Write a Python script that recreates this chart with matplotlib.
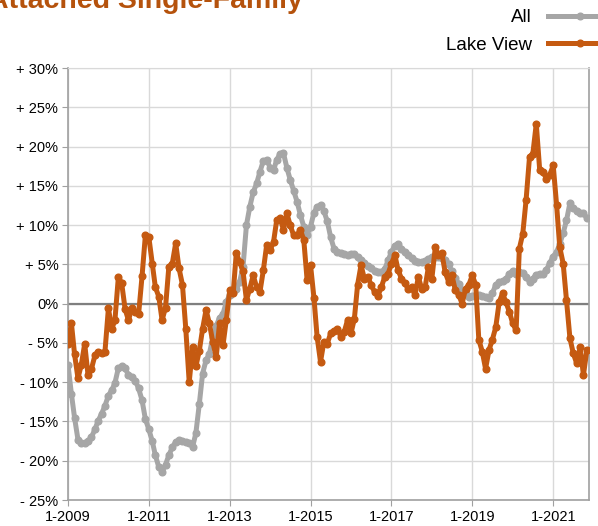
import pandas as pd
import matplotlib
matplotlib.use('Agg')
import matplotlib.pyplot as plt

plt.rcParams['font.family'] = ['Liberation Sans', 'DejaVu Sans']

## meses desde 1-2009 hasta 11-2021
fechas = pd.date_range('2009-01-01', periods=155, freq='MS')

todos = [-7.8, -11.5, -14.5, -17.3, -17.8, -17.7, -17.5, -17.0, -16.0, -14.9,
         -14.0, -13.0, -11.7, -11.0, -10.1, -8.2, -8.0, -8.2, -9.1, -9.4,
         -9.8, -10.8, -12.3, -14.7, -16.0, -17.5, -19.3, -20.8, -21.4, -20.5,
         -19.3, -18.3, -17.6, -17.4, -17.5, -17.6, -17.7, -18.2, -16.5, -12.8,
         -8.9, -7.2, -6.4, -4.3, -2.8, -1.8, -1.3, 0.2, 1.1, 1.5,
         1.9, 2.8, 4.7, 10.0, 12.3, 14.2, 15.3, 16.8, 18.2, 18.3,
         17.3, 17.0, 18.3, 19.1, 19.2, 17.3, 15.8, 14.4, 13.0, 11.3,
         9.8, 8.8, 9.8, 11.6, 12.3, 12.6, 11.8, 10.5, 8.5, 7.0,
         6.6, 6.4, 6.3, 6.2, 6.3, 6.3, 6.0, 5.6, 5.2, 4.8,
         4.5, 4.2, 4.0, 4.0, 4.4, 5.5, 6.6, 7.4, 7.6, 7.0,
         6.6, 6.2, 5.8, 5.4, 5.3, 5.3, 5.4, 5.7, 6.0, 6.0,
         5.9, 5.8, 5.5, 5.0, 4.1, 3.3, 2.5, 1.7, 1.2, 0.9,
         1.0, 1.1, 1.1, 1.0, 0.9, 0.7, 1.3, 2.4, 2.7, 2.9,
         3.1, 3.8, 4.2, 3.8, 4.0, 3.9, 3.4, 2.8, 3.2, 3.7,
         3.8, 3.8, 4.3, 5.2, 6.0, 6.6, 7.6, 9.0, 10.6, 12.8,
         12.2, 11.8, 11.5, 11.5, 10.9]

lake_view = [-5.1, -2.5, -6.4, -9.5, -7.8, -5.1, -9.1, -8.3, -6.6, -6.1,
             -6.3, -6.1, -0.6, -3.2, -2.1, 3.4, 2.6, -0.7, -2.1, -0.6,
             -1.0, -1.3, 3.5, 8.7, 8.5, 5.1, 2.1, 0.9, -2.1, -0.5,
             4.7, 5.1, 7.7, 4.5, 2.4, -3.2, -10.0, -5.5, -8.0, -6.0,
             -3.2, -0.8, -2.5, -4.9, -6.8, -2.5, -5.3, -2.1, 1.7, 1.3,
             6.4, 5.3, 4.1, 0.45, 1.9, 3.6, 2.1, 1.5, 4.3, 7.5,
             6.8, 7.9, 10.6, 10.9, 9.4, 11.5, 10.0, 8.7, 8.7, 9.4,
             8.1, 3.0, 4.9, 0.7, -4.2, -7.4, -4.9, -5.1, -3.8, -3.5,
             -3.2, -4.2, -3.6, -2.1, -3.8, -1.9, 2.4, 4.9, 3.2, 3.4,
             2.4, 1.5, 1.0, 2.1, 3.4, 3.8, 5.1, 6.2, 4.3, 3.2,
             2.6, 1.9, 2.1, 1.1, 3.4, 1.9, 2.1, 4.7, 3.2, 7.2,
             6.2, 6.4, 4.0, 2.8, 3.6, 1.7, 1.1, 0.0, 1.9, 2.4,
             3.6, 2.4, -4.6, -6.1, -8.3, -5.9, -4.6, -3.0, 0.2, 1.3,
             0.2, -1.0, -2.5, -3.4, 7.0, 8.9, 13.2, 18.7, 19.1, 22.9,
             17.0, 16.8, 15.9, 16.4, 17.6, 12.5, 7.2, 5.1, 0.45, -4.4,
             -6.3, -7.6, -5.5, -9.1, -5.9]

y_ticks = [30, 25, 20, 15, 10, 5, 0, -5, -10, -15, -20, -25]
y_labels = ['+ 30%', '+ 25%', '+ 20%', '+ 15%', '+ 10%', '+ 5%', '0%',
            '- 5%', '- 10%', '- 15%', '- 20%', '- 25%']
x_ticks = pd.to_datetime(['2009-01-01', '2011-01-01', '2013-01-01', '2015-01-01',
                          '2017-01-01', '2019-01-01', '2021-01-01'])
x_labels = ['1-2009', '1-2011', '1-2013', '1-2015', '1-2017', '1-2019', '1-2021']

gris = '#a6a6a6'
naranja = '#c55a11'

fig = plt.figure(figsize=(5.98, 5.26), dpi=100)
ax = fig.add_axes([0.1137, 0.0494, 0.8712, 0.8213])

ax.plot(fechas, todos, color=gris, lw=3.6, marker='o', ms=4.8, label='All', zorder=3)
ax.plot(fechas, lake_view, color=naranja, lw=3.6, marker='o', ms=4.8, label='Lake View', zorder=4)

ax.axhline(0, color='#7f7f7f', lw=1.6, zorder=2)  ## linea del cero

ax.set_ylim(-25, 30)
ax.set_xlim(pd.Timestamp('2009-01-01'), pd.Timestamp('2021-11-20'))
ax.set_yticks(y_ticks)
ax.set_yticklabels(y_labels, fontsize=10.5)
ax.set_xticks(x_ticks)
ax.set_xticklabels(x_labels, fontsize=10.5)
ax.grid(True, color='#d9d9d9', lw=1)
ax.set_axisbelow(True)
ax.tick_params(axis='both', length=4, color='#a0a0a0', pad=3)

for lado in ['left', 'bottom', 'right']:
    ax.spines[lado].set_color('#a0a0a0')
    ax.spines[lado].set_linewidth(1.2)
ax.spines['top'].set_color('#d9d9d9')

## titulo cortado arriba
fig.text(-0.0196, 1 - 8 / 526, 'Attached Single-Family', fontsize=20.5, fontweight='bold',
         color='#b5520c', va='baseline', ha='left')

ley = fig.legend(loc='upper right', bbox_to_anchor=(1.052, 1.015), frameon=False,
                 markerfirst=False, fontsize=13.5, handlelength=3.4, labelspacing=0.55,
                 handletextpad=0.9)

fig.savefig('out.png', dpi=100)
